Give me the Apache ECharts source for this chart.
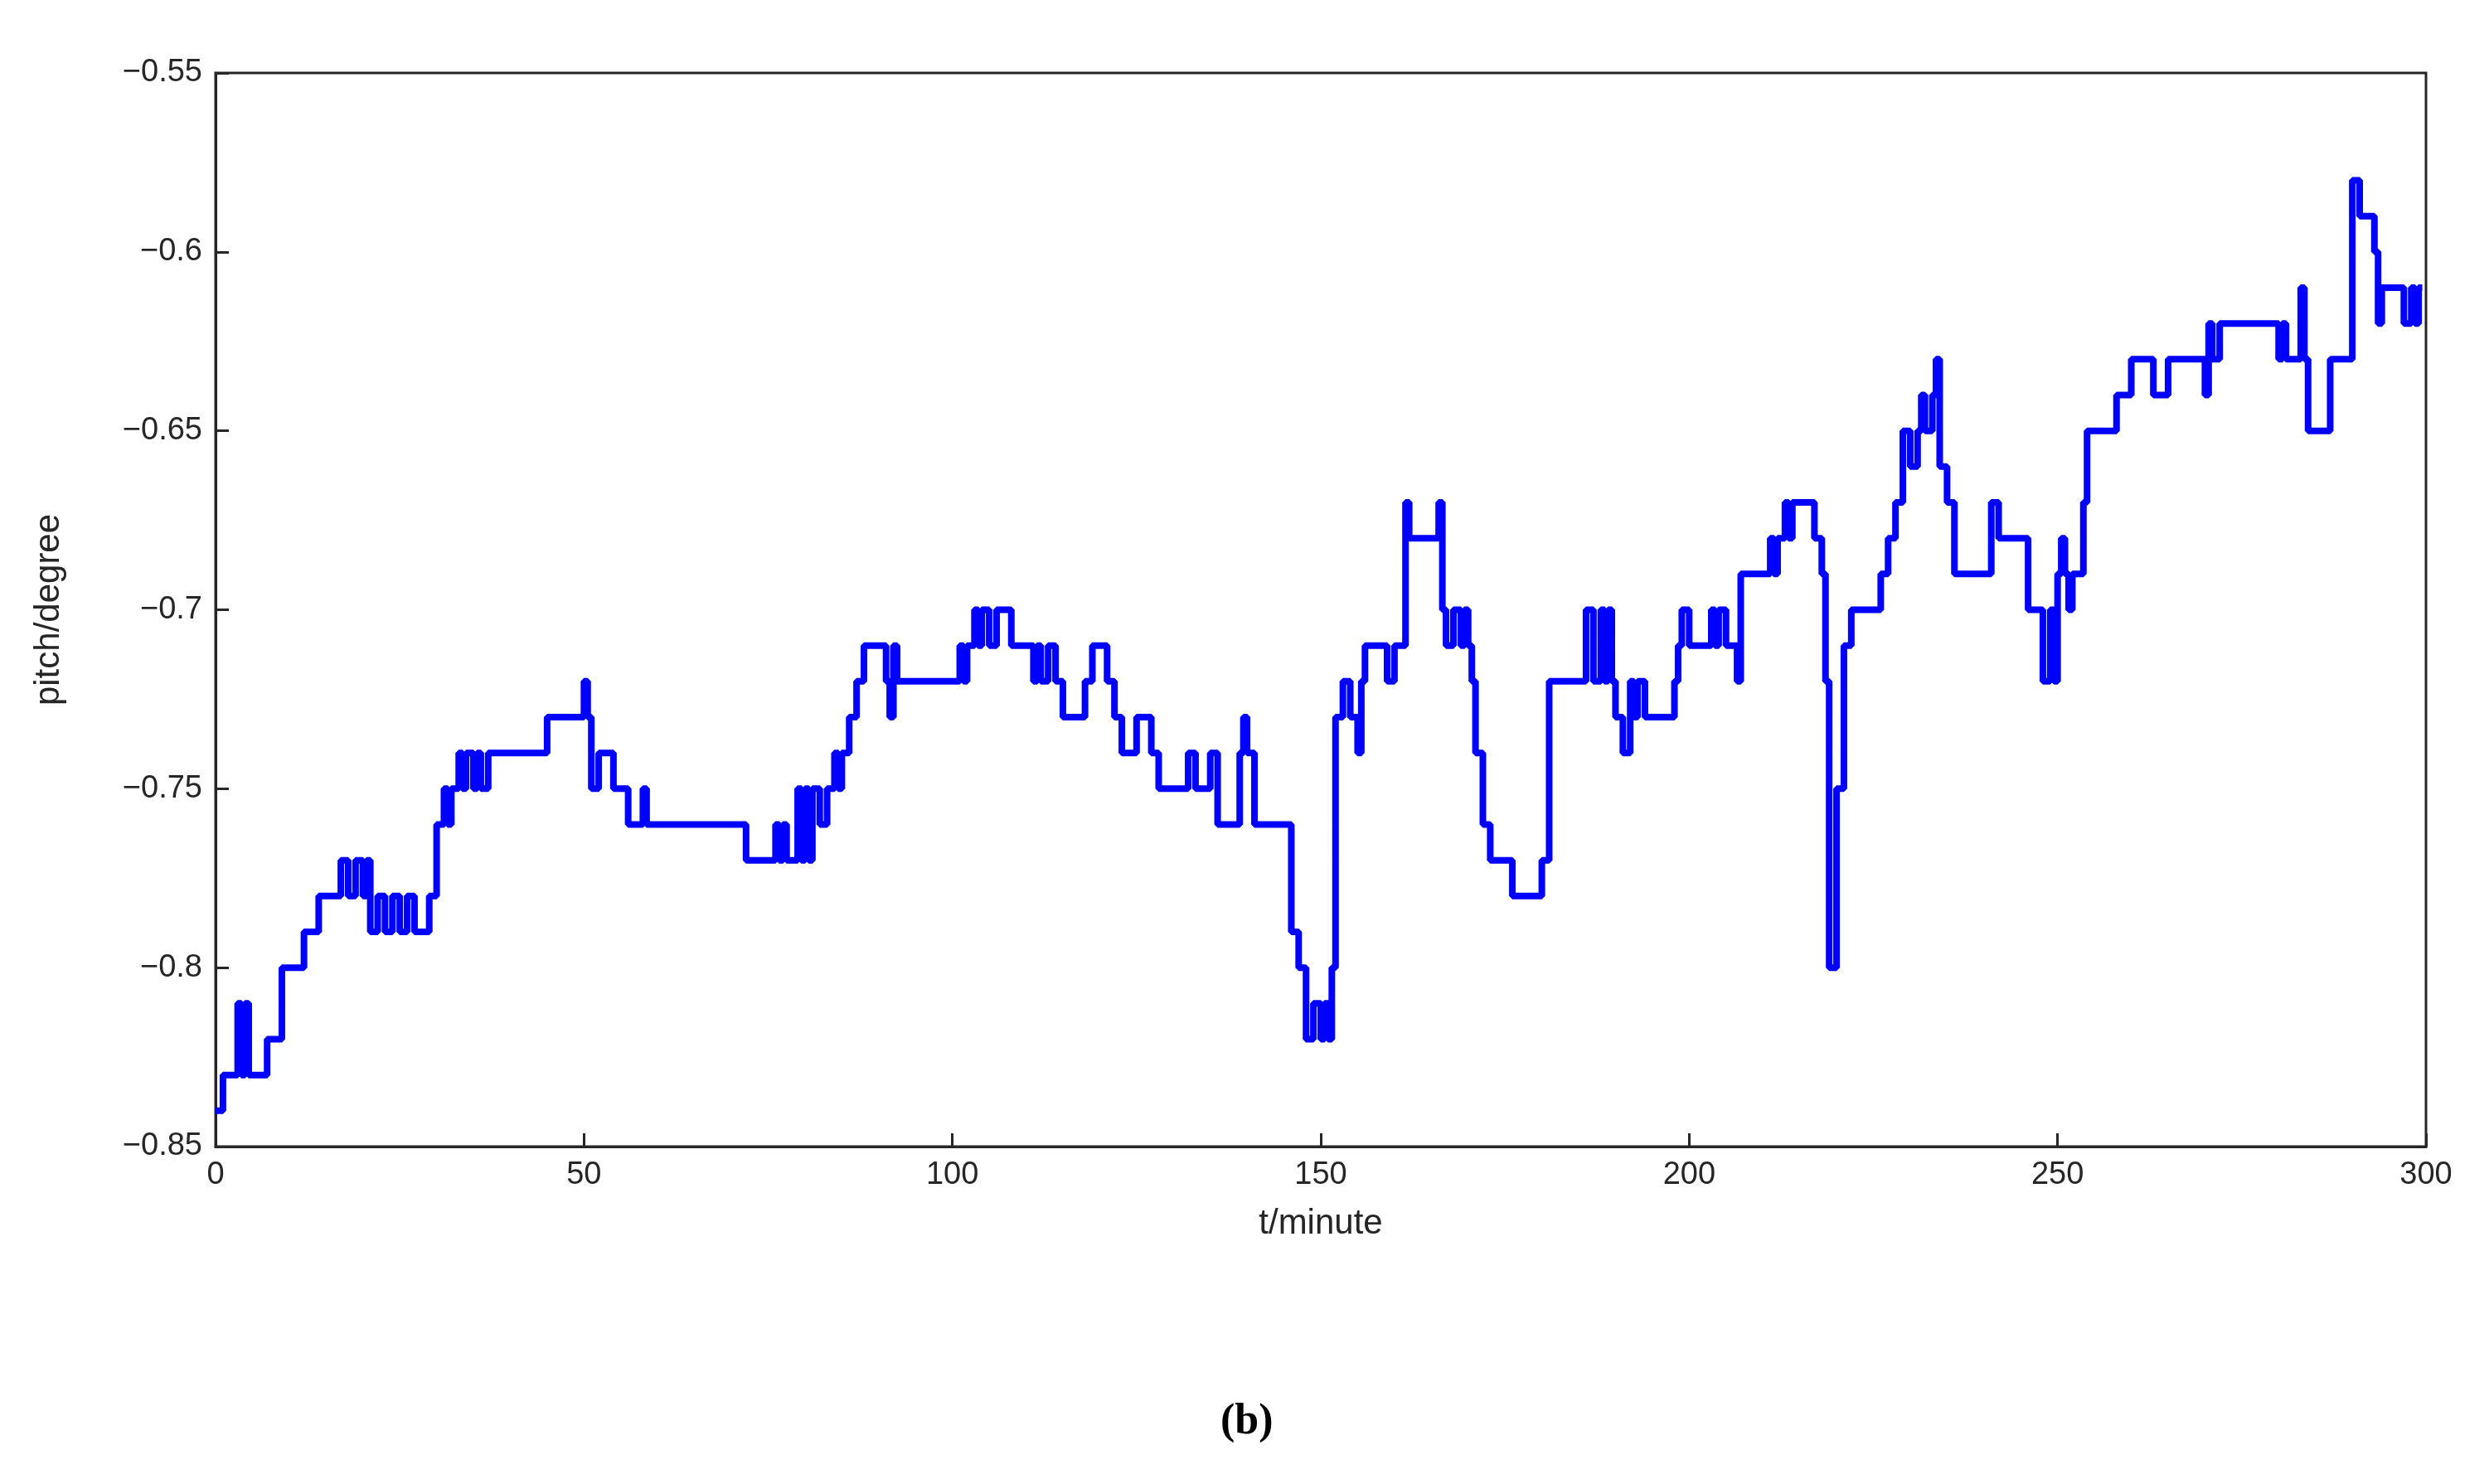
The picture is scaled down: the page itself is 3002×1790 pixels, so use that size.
<!DOCTYPE html>
<html>
<head>
<meta charset="utf-8">
<script src="https://cdn.jsdelivr.net/npm/echarts@6/dist/echarts.min.js"></script>
<style>
  html, body { margin: 0; padding: 0; background: #fff; }
  #chart { width: 3002px; height: 1790px; }
</style>
</head>
<body>
<div id="chart"></div>
<script>
// pitch 数据（读图得到的阶梯拐点）
const times = [0, 1, 3, 3.5, 4, 4.5, 7, 9, 12, 14, 17, 18, 19, 20, 20.5, 21, 22, 23, 24, 25, 26, 27, 28, 29, 30, 31, 31.5, 32, 33, 33.5, 34, 35, 35.5, 36, 37, 45, 50, 50.5, 51, 52, 54, 56, 58, 58.5, 59, 72, 76, 76.5, 77, 77.5, 78, 79, 79.5, 80, 80.5, 81, 82, 83, 84, 84.5, 85, 86, 87, 88, 91, 91.5, 92, 92.5, 93, 101, 101.5, 102, 103, 103.5, 104, 105, 106, 108, 110, 111, 111.5, 112, 113, 114, 115, 118, 119, 121, 122, 123, 125, 127, 127.5, 128, 132, 132.5, 133, 135, 135.5, 136, 139, 139.5, 140, 141, 146, 147, 148, 149, 150, 150.5, 151, 151.5, 152, 153, 154, 155, 155.5, 156, 159, 160, 161, 161.5, 162, 166, 166.5, 167, 168, 169, 169.5, 170, 170.5, 171, 172, 173, 176, 180, 181, 186, 187, 188, 188.5, 189, 189.5, 190, 190.5, 191, 192, 192.5, 193, 194, 198, 198.5, 199, 200, 203, 203.5, 204, 205, 206, 206.5, 207, 211, 211.5, 212, 213, 213.5, 214, 217, 218, 218.5, 219, 220, 221, 222, 226, 227, 228, 229, 230, 231, 231.5, 232, 233, 233.5, 234, 235, 236, 241, 242, 246, 248, 249, 249.5, 250, 250.5, 251, 251.5, 252, 253, 253.5, 254, 258, 260, 263, 265, 270, 270.5, 271, 272, 276, 280, 280.5, 281, 282, 283, 283.5, 284, 287, 290, 291, 292, 293, 293.5, 294, 297, 298, 298.5, 299, 299.5, 300]
const pitch = [-0.84, -0.83, -0.81, -0.83, -0.81, -0.83, -0.82, -0.80, -0.79, -0.78, -0.77, -0.78, -0.77, -0.78, -0.77, -0.79, -0.78, -0.79, -0.78, -0.79, -0.78, -0.79, -0.79, -0.78, -0.76, -0.75, -0.76, -0.75, -0.74, -0.75, -0.74, -0.75, -0.74, -0.75, -0.74, -0.73, -0.72, -0.73, -0.75, -0.74, -0.75, -0.76, -0.75, -0.76, -0.76, -0.77, -0.76, -0.77, -0.76, -0.77, -0.77, -0.75, -0.77, -0.75, -0.77, -0.75, -0.76, -0.75, -0.74, -0.75, -0.74, -0.73, -0.72, -0.71, -0.72, -0.73, -0.71, -0.72, -0.72, -0.71, -0.72, -0.71, -0.70, -0.71, -0.70, -0.71, -0.70, -0.71, -0.71, -0.72, -0.71, -0.72, -0.71, -0.72, -0.73, -0.72, -0.71, -0.72, -0.73, -0.74, -0.73, -0.74, -0.74, -0.75, -0.74, -0.74, -0.75, -0.74, -0.74, -0.76, -0.74, -0.73, -0.74, -0.76, -0.79, -0.80, -0.82, -0.81, -0.82, -0.81, -0.82, -0.80, -0.73, -0.72, -0.73, -0.74, -0.72, -0.71, -0.72, -0.71, -0.71, -0.67, -0.68, -0.67, -0.70, -0.71, -0.70, -0.71, -0.70, -0.71, -0.72, -0.74, -0.76, -0.77, -0.78, -0.77, -0.72, -0.70, -0.72, -0.70, -0.72, -0.70, -0.72, -0.73, -0.73, -0.74, -0.72, -0.73, -0.72, -0.73, -0.72, -0.71, -0.70, -0.71, -0.70, -0.71, -0.70, -0.71, -0.71, -0.72, -0.69, -0.68, -0.69, -0.68, -0.67, -0.68, -0.67, -0.68, -0.69, -0.72, -0.80, -0.75, -0.71, -0.70, -0.69, -0.68, -0.67, -0.65, -0.66, -0.65, -0.64, -0.65, -0.64, -0.63, -0.66, -0.67, -0.69, -0.67, -0.68, -0.70, -0.72, -0.70, -0.72, -0.69, -0.68, -0.69, -0.70, -0.69, -0.69, -0.67, -0.65, -0.64, -0.63, -0.64, -0.63, -0.64, -0.62, -0.63, -0.62, -0.62, -0.63, -0.62, -0.63, -0.63, -0.61, -0.63, -0.65, -0.63, -0.58, -0.59, -0.59, -0.60, -0.62, -0.61, -0.62, -0.61, -0.62, -0.61]
const xTicks = [0, 50, 100, 150, 200, 250, 300]
const yTicks = [-0.85, -0.8, -0.75, -0.7, -0.65, -0.6, -0.55]

const chart = echarts.init(document.getElementById('chart'))
const axisFont = { fontFamily: 'Liberation Sans, Arial', fontSize: 38, color: '#262626' }
const frame = { show: true, lineStyle: { color: '#262626', width: 3 } }

chart.setOption({
  animation: false,
  backgroundColor: '#fff',
  grid: { left: 260, right: 76, top: 88, bottom: 407, show: true, borderColor: '#262626', borderWidth: 3 },
  xAxis: {
    type: 'value', min: 0, max: 300, interval: 50,
    name: 't/minute', nameLocation: 'middle', nameGap: 72,
    nameTextStyle: Object.assign({}, axisFont, { fontSize: 42 }),
    axisLine: frame,
    axisTick: { show: true, inside: true, length: 16, lineStyle: { color: '#262626', width: 3 } },
    axisLabel: Object.assign({ margin: 16, formatter: v => xTicks.includes(v) ? String(v) : '' }, axisFont),
    splitLine: { show: false }
  },
  yAxis: {
    type: 'value', min: -0.85, max: -0.55, interval: 0.05,
    name: 'pitch/degree', nameLocation: 'middle', nameGap: 180,
    nameTextStyle: Object.assign({}, axisFont, { fontSize: 42 }),
    axisLine: frame,
    axisTick: { show: true, inside: true, length: 16, lineStyle: { color: '#262626', width: 3 } },
    axisLabel: Object.assign({
      margin: 16,
      formatter: v => {
        let s = String(Math.round(v * 100) / 100)
        return s.replace('-', '\u2212')
      }
    }, axisFont),
    splitLine: { show: false }
  },
  series: [{
    type: 'line',
    step: 'end',
    data: times.map((t, i) => [t, pitch[i]]),
    showSymbol: false,
    lineStyle: { color: '#0000ff', width: 8 },
    clip: true
  }],
  graphic: [{
    type: 'text', left: 1472, top: 1690,
    style: { text: '(b)', font: 'bold 52px "Liberation Serif", serif', fill: '#000' }
  }]
})
</script>
</body>
</html>
